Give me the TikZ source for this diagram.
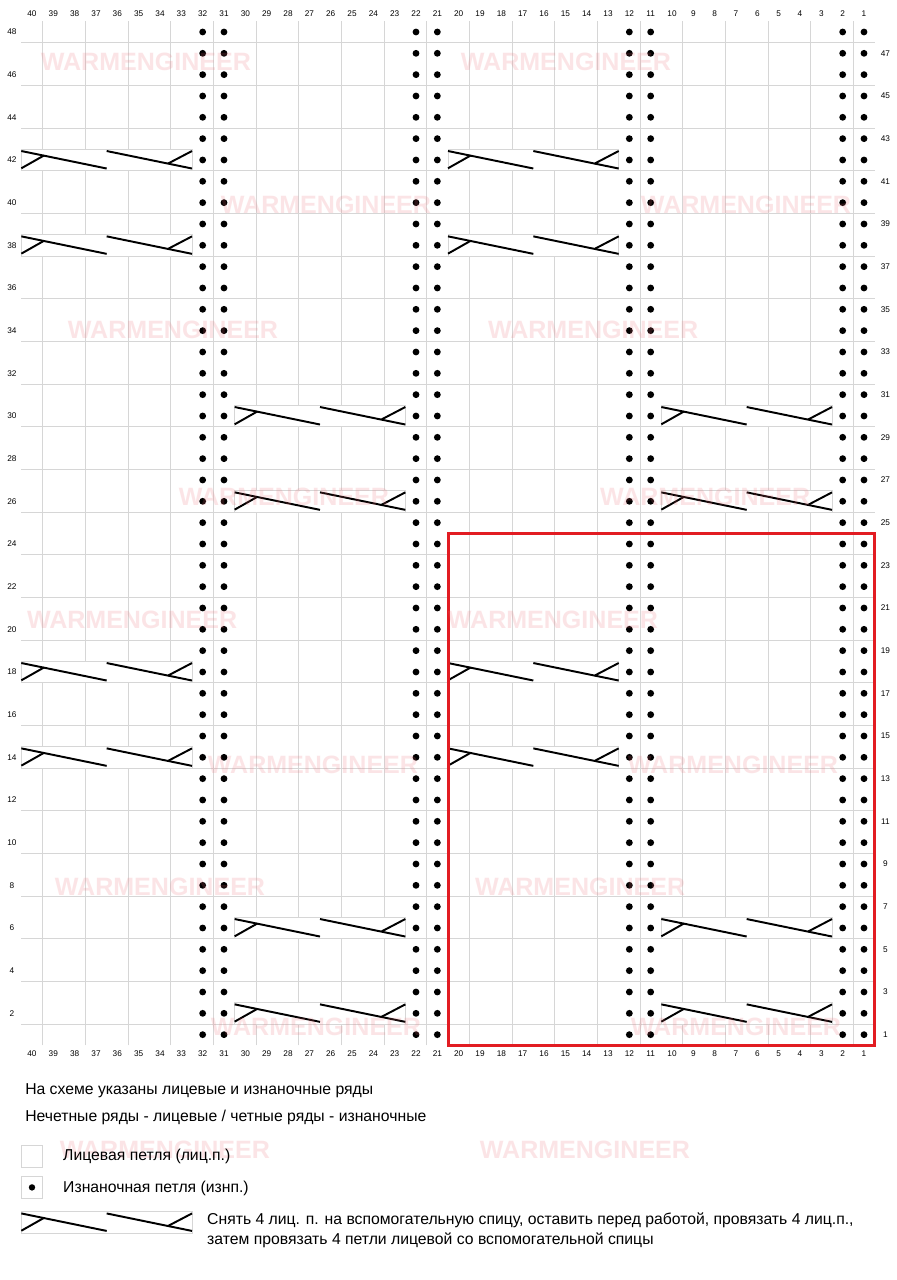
\documentclass[tikz,border=0pt]{standalone}
\usepackage{fontspec}
\setmainfont{Liberation Sans}
\usetikzlibrary{calc}
\definecolor{gridgray}{RGB}{214,214,214}
\definecolor{chartred}{RGB}{226,28,34}
\definecolor{wmpink}{RGB}{238,110,118}

\begin{document}
\begin{tikzpicture}[x=5mm,y=5mm,
    gridline/.style={gridgray,line width=0.5pt},
    cab/.style={black,line width=1.3pt},
    num/.style={font=\fontsize{5.5}{6}\selectfont,inner sep=0pt},
    wm/.style={font=\fontsize{16.7}{18}\selectfont\bfseries,text=wmpink,
      text opacity=0.18,inner sep=0pt},
    legend/.style={font=\fontsize{10.5}{12}\selectfont,anchor=west,inner sep=0pt}]
  \useasboundingbox (0,0) rectangle (42,60);
  \fill[white] (0,0) rectangle (42,60);

  \draw[gridline] (1,11) grid (41,59);
  \foreach \c in {1,...,40} {
    \node[num] (top\c) at (41.5-\c,59.34) {\c};
    \node[num] (bot\c) at (41.5-\c,10.59) {\c};
  }
  \foreach \r in {2,4,...,48}
    \node[num] (row\r) at (0.56,10.5+\r) {\r};
  \foreach \r in {1,3,...,47}
    \node[num] (row\r) at (41.5,10.5+\r) {\r};

  \foreach \c in {32,31,22,21,12,11,2,1}
    \foreach \r in {1,...,48}
      \fill (41.5-\c,10.5+\r) circle (0.16);

  \foreach \x/\r in {1/42,1/38,1/18,1/14,21/42,21/38,21/18,21/14,
                     11/30,11/26,11/6,11/2,31/30,31/26,31/6,31/2} {
    \filldraw[gridline,fill=white] (\x,10+\r) rectangle +(8,1);
    \draw[cab] (\x,10.92+\r) -- (\x+4,10.1+\r);
    \draw[cab] (\x,10.11+\r) -- (\x+1.06,10.71+\r);
    \draw[cab] (\x+4,10.92+\r) -- (\x+8,10.1+\r);
    \draw[cab] (\x+6.89,10.34+\r) -- (\x+8,10.92+\r);
  }

  \draw[chartred,line width=2pt] (21,11) rectangle (41,35);

  \foreach \x/\y [count=\i] in {6.84/57.09,26.53/57.09,15.28/50.39,34.97/50.39,
                     8.11/44.53,27.80/44.53,13.31/36.70,33.05/36.70,
                     6.19/30.94,25.92/30.94,14.67/24.14,34.36/24.14,
                     7.5/18.42,27.19/18.42,14.81/11.86,34.5/11.86,
                     7.73/6.09,27.42/6.09}
    \node[wm] (mark\i) at (\x,\y) {WARMENGINEER};

  \node[legend] (note1) at (1.17,8.86) {На схеме указаны лицевые и изнаночные ряды};
  \node[legend] (note2) at (1.17,7.64) {Нечетные ряды - лицевые / четные ряды - изнаночные};
  \draw[gridline] (1,5.3) rectangle (2,6.3);
  \node[legend] (knit) at (2.95,5.8) {Лицевая петля (лиц.п.)};
  \draw[gridline] (1,3.84) rectangle (2,4.84);
  \fill (1.5,4.34) circle (0.15);
  \node[legend] (purl) at (2.95,4.31) {Изнаночная петля (изнп.)};
  \draw[gridline] (1,2.2) rectangle (9,3.2);
  \draw[cab] (1,3.12) -- (5,2.3);
  \draw[cab] (1,2.31) -- (2.06,2.91);
  \draw[cab] (5,3.12) -- (9,2.3);
  \draw[cab] (7.89,2.54) -- (9,3.12);
  \node[legend] (cable1) at (9.7,2.81) {Снять 4 лиц. п. на вспомогательную спицу, оставить перед работой, провязать 4 лиц.п.,};
  \node[legend] (cable2) at (9.7,1.875) {затем провязать 4 петли лицевой со вспомогательной спицы};
\end{tikzpicture}
\end{document}
